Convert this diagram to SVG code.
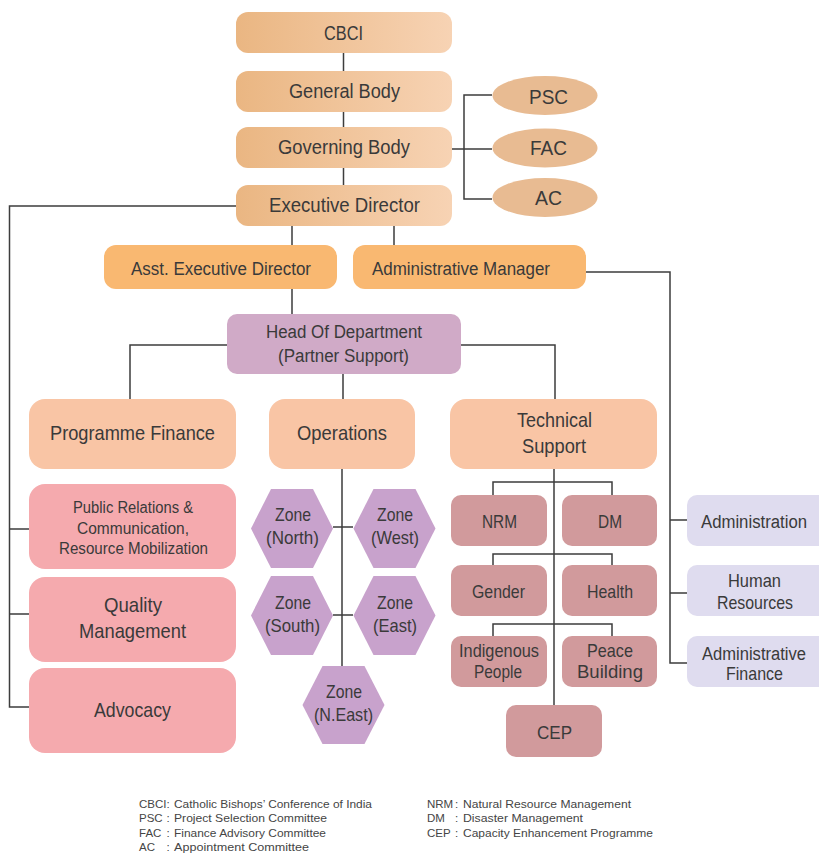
<svg xmlns="http://www.w3.org/2000/svg" width="819" height="857" viewBox="0 0 819 857">
<defs>
<linearGradient id="g1" x1="0" y1="0" x2="1" y2="0">
<stop offset="0" stop-color="#eab682"/>
<stop offset="1" stop-color="#f7d3b4"/>
</linearGradient>
<style>
text{font-family:"Liberation Sans",Arial,sans-serif;fill:#3a3a3a;text-anchor:middle}
.t20{font-size:20px}
.t18{font-size:18px}
.t21{font-size:21px}
.t16{font-size:16px}
.t19{font-size:19px}
.top{fill:url(#g1)}
.ell{fill:#e8bb92}
.mgr{fill:#f9b871}
.hod{fill:#d0aac7}
.dept{fill:#f9c5a5}
.pink{fill:#f5aaae}
.hex{fill:#c8a2cc}
.tech{fill:#d19a9c}
.adm{fill:#dfdcef}
.conn{fill:none;stroke:#3d3d3d;stroke-width:1.5}
.leg{font-size:11.5px;fill:#454545;text-anchor:start}
</style>
</defs>
<rect width="819" height="857" fill="#ffffff"/>

<g id="connectors" class="conn">
<path d="M343.5,53V71M343.5,112V127M343.5,168V185"/>
<path d="M452,149H492M492,95H464V199H492"/>
<path d="M236,206H9.5V707H29M9.5,529H29M9.5,614H29"/>
<path d="M292,226V245M394,226V245M292,289V314"/>
<path d="M586,272H670V663H687M670,520H687M670,593H687"/>
<path d="M227,345H130V399M461,345H555V399M343,374V399"/>
<path d="M342,469V666M333,527H353M333,615H353"/>
<path d="M554,469V705M493,495V482H612V495M493,565V554H612V565M493,636V624H612V636"/>
</g>

<g id="cbci"><rect class="top" x="236" y="12" width="216" height="41" rx="12"/><text class="t20" x="343.5" y="40" textLength="39" lengthAdjust="spacingAndGlyphs">CBCI</text></g>
<g id="general-body"><rect class="top" x="236" y="71" width="216" height="41" rx="12"/><text class="t20" x="344.5" y="98" textLength="111" lengthAdjust="spacingAndGlyphs">General Body</text></g>
<g id="governing-body"><rect class="top" x="236" y="127" width="216" height="41" rx="12"/><text class="t20" x="344" y="154" textLength="132" lengthAdjust="spacingAndGlyphs">Governing Body</text></g>
<g id="executive-director"><rect class="top" x="236" y="185" width="216" height="41" rx="12"/><text class="t20" x="344.5" y="212" textLength="151" lengthAdjust="spacingAndGlyphs">Executive Director</text></g>

<g id="psc"><ellipse class="ell" cx="545" cy="95.5" rx="52.5" ry="19.5"/><text class="t21" x="548.5" y="104" textLength="39" lengthAdjust="spacingAndGlyphs">PSC</text></g>
<g id="fac"><ellipse class="ell" cx="545" cy="148" rx="52.5" ry="19.5"/><text class="t21" x="548.5" y="155" textLength="37" lengthAdjust="spacingAndGlyphs">FAC</text></g>
<g id="ac"><ellipse class="ell" cx="545" cy="197.5" rx="52.5" ry="19.5"/><text class="t21" x="548.5" y="205" textLength="27" lengthAdjust="spacingAndGlyphs">AC</text></g>

<g id="asst-executive-director"><rect class="mgr" x="104" y="245" width="233" height="44" rx="12"/><text class="t18" x="221" y="275" textLength="180" lengthAdjust="spacingAndGlyphs">Asst. Executive Director</text></g>
<g id="administrative-manager"><rect class="mgr" x="353" y="245" width="233" height="44" rx="12"/><text class="t18" x="461" y="275" textLength="178" lengthAdjust="spacingAndGlyphs">Administrative Manager</text></g>

<g id="head-of-department"><rect class="hod" x="227" y="314" width="234" height="60" rx="10"/><text class="t18" x="344" y="338" textLength="156" lengthAdjust="spacingAndGlyphs">Head Of Department</text><text class="t18" x="343.5" y="362" textLength="131" lengthAdjust="spacingAndGlyphs">(Partner Support)</text></g>

<g id="programme-finance"><rect class="dept" x="29" y="399" width="207" height="70" rx="16"/><text class="t21" x="132.5" y="440" textLength="165" lengthAdjust="spacingAndGlyphs">Programme Finance</text></g>
<g id="operations"><rect class="dept" x="269" y="399" width="146" height="70" rx="16"/><text class="t21" x="342" y="440" textLength="90" lengthAdjust="spacingAndGlyphs">Operations</text></g>
<g id="technical-support"><rect class="dept" x="450" y="399" width="207" height="70" rx="16"/><text class="t21" x="554.5" y="427" textLength="75" lengthAdjust="spacingAndGlyphs">Technical</text><text class="t21" x="554" y="453" textLength="64" lengthAdjust="spacingAndGlyphs">Support</text></g>

<g id="public-relations"><rect class="pink" x="29" y="484" width="207" height="85" rx="16"/><text class="t16" x="133" y="513" textLength="120" lengthAdjust="spacingAndGlyphs">Public Relations &amp;</text><text class="t16" x="133" y="534" textLength="112" lengthAdjust="spacingAndGlyphs">Communication,</text><text class="t16" x="133.5" y="554" textLength="149" lengthAdjust="spacingAndGlyphs">Resource Mobilization</text></g>
<g id="quality-management"><rect class="pink" x="29" y="577" width="207" height="85" rx="16"/><text class="t21" x="133" y="612" textLength="58" lengthAdjust="spacingAndGlyphs">Quality</text><text class="t21" x="132.5" y="638" textLength="107" lengthAdjust="spacingAndGlyphs">Management</text></g>
<g id="advocacy"><rect class="pink" x="29" y="668" width="207" height="85" rx="16"/><text class="t21" x="132.5" y="717" textLength="77" lengthAdjust="spacingAndGlyphs">Advocacy</text></g>

<g id="zone-north"><polygon class="hex" points="251,528.5 271,489 313,489 333,528.5 313,568 271,568"/><text class="t19" x="293" y="521" textLength="36" lengthAdjust="spacingAndGlyphs">Zone</text><text class="t19" x="292.5" y="544" textLength="53" lengthAdjust="spacingAndGlyphs">(North)</text></g>
<g id="zone-west"><polygon class="hex" points="353.5,528.5 373.5,489 415.5,489 435.5,528.5 415.5,568 373.5,568"/><text class="t19" x="395" y="521" textLength="36" lengthAdjust="spacingAndGlyphs">Zone</text><text class="t19" x="395" y="544" textLength="48" lengthAdjust="spacingAndGlyphs">(West)</text></g>
<g id="zone-south"><polygon class="hex" points="251,615.5 271,576 313,576 333,615.5 313,655 271,655"/><text class="t19" x="293" y="609" textLength="36" lengthAdjust="spacingAndGlyphs">Zone</text><text class="t19" x="292.5" y="632" textLength="55" lengthAdjust="spacingAndGlyphs">(South)</text></g>
<g id="zone-east"><polygon class="hex" points="353.5,615.5 373.5,576 415.5,576 435.5,615.5 415.5,655 373.5,655"/><text class="t19" x="395" y="609" textLength="36" lengthAdjust="spacingAndGlyphs">Zone</text><text class="t19" x="395" y="632" textLength="44" lengthAdjust="spacingAndGlyphs">(East)</text></g>
<g id="zone-neast"><polygon class="hex" points="302.5,705 322.5,666 364.5,666 384.5,705 364.5,744 322.5,744"/><text class="t19" x="344" y="698" textLength="36" lengthAdjust="spacingAndGlyphs">Zone</text><text class="t19" x="343.5" y="721" textLength="59" lengthAdjust="spacingAndGlyphs">(N.East)</text></g>

<g id="nrm"><rect class="tech" x="451" y="495" width="96" height="51" rx="10"/><text class="t19" x="499.5" y="528" textLength="35" lengthAdjust="spacingAndGlyphs">NRM</text></g>
<g id="dm"><rect class="tech" x="562" y="495" width="95" height="51" rx="10"/><text class="t19" x="610" y="528" textLength="24" lengthAdjust="spacingAndGlyphs">DM</text></g>
<g id="gender"><rect class="tech" x="451" y="565" width="96" height="51" rx="10"/><text class="t19" x="498.5" y="598" textLength="53" lengthAdjust="spacingAndGlyphs">Gender</text></g>
<g id="health"><rect class="tech" x="562" y="565" width="95" height="51" rx="10"/><text class="t19" x="610" y="598" textLength="46" lengthAdjust="spacingAndGlyphs">Health</text></g>
<g id="indigenous-people"><rect class="tech" x="451" y="636" width="96" height="51" rx="10"/><text class="t19" x="499" y="657" textLength="80" lengthAdjust="spacingAndGlyphs">Indigenous</text><text class="t19" x="498" y="678" textLength="48" lengthAdjust="spacingAndGlyphs">People</text></g>
<g id="peace-building"><rect class="tech" x="562" y="636" width="95" height="51" rx="10"/><text class="t19" x="610" y="657" textLength="46" lengthAdjust="spacingAndGlyphs">Peace</text><text class="t19" x="610" y="678" textLength="66" lengthAdjust="spacingAndGlyphs">Building</text></g>
<g id="cep"><rect class="tech" x="506" y="705" width="96" height="52" rx="10"/><text class="t19" x="554.5" y="739" textLength="35" lengthAdjust="spacingAndGlyphs">CEP</text></g>

<g id="administration"><path class="adm" d="M697,495H819V546H697A10,10 0 0 1 687,536V505A10,10 0 0 1 697,495Z"/><text class="t18" x="754" y="528" textLength="106" lengthAdjust="spacingAndGlyphs">Administration</text></g>
<g id="human-resources"><path class="adm" d="M697,565H819V616H697A10,10 0 0 1 687,606V575A10,10 0 0 1 697,565Z"/><text class="t19" x="754.5" y="587" textLength="53" lengthAdjust="spacingAndGlyphs">Human</text><text class="t19" x="755" y="609" textLength="76" lengthAdjust="spacingAndGlyphs">Resources</text></g>
<g id="administrative-finance"><path class="adm" d="M697,636H819V687H697A10,10 0 0 1 687,677V646A10,10 0 0 1 697,636Z"/><text class="t18" x="754" y="660" textLength="104" lengthAdjust="spacingAndGlyphs">Administrative</text><text class="t19" x="754.5" y="680" textLength="57" lengthAdjust="spacingAndGlyphs">Finance</text></g>

<g id="legend">
<text class="leg" x="139" y="808">CBCI</text><text class="leg" x="166.5" y="808">:</text><text class="leg" x="174" y="808" textLength="198" lengthAdjust="spacingAndGlyphs">Catholic Bishops’ Conference of India</text>
<text class="leg" x="139" y="822">PSC</text><text class="leg" x="166.5" y="822">:</text><text class="leg" x="174" y="822" textLength="153" lengthAdjust="spacingAndGlyphs">Project Selection Committee</text>
<text class="leg" x="139" y="837">FAC</text><text class="leg" x="166.5" y="837">:</text><text class="leg" x="174" y="837" textLength="152" lengthAdjust="spacingAndGlyphs">Finance Advisory Committee</text>
<text class="leg" x="139" y="851">AC</text><text class="leg" x="166.5" y="851">:</text><text class="leg" x="174" y="851" textLength="135" lengthAdjust="spacingAndGlyphs">Appointment Committee</text>
<text class="leg" x="427" y="808">NRM</text><text class="leg" x="455" y="808">:</text><text class="leg" x="463" y="808" textLength="168" lengthAdjust="spacingAndGlyphs">Natural Resource Management</text>
<text class="leg" x="427" y="822">DM</text><text class="leg" x="455" y="822">:</text><text class="leg" x="463" y="822" textLength="120" lengthAdjust="spacingAndGlyphs">Disaster Management</text>
<text class="leg" x="427" y="837">CEP</text><text class="leg" x="455" y="837">:</text><text class="leg" x="463" y="837" textLength="190" lengthAdjust="spacingAndGlyphs">Capacity Enhancement Programme</text>
</g>
</svg>
